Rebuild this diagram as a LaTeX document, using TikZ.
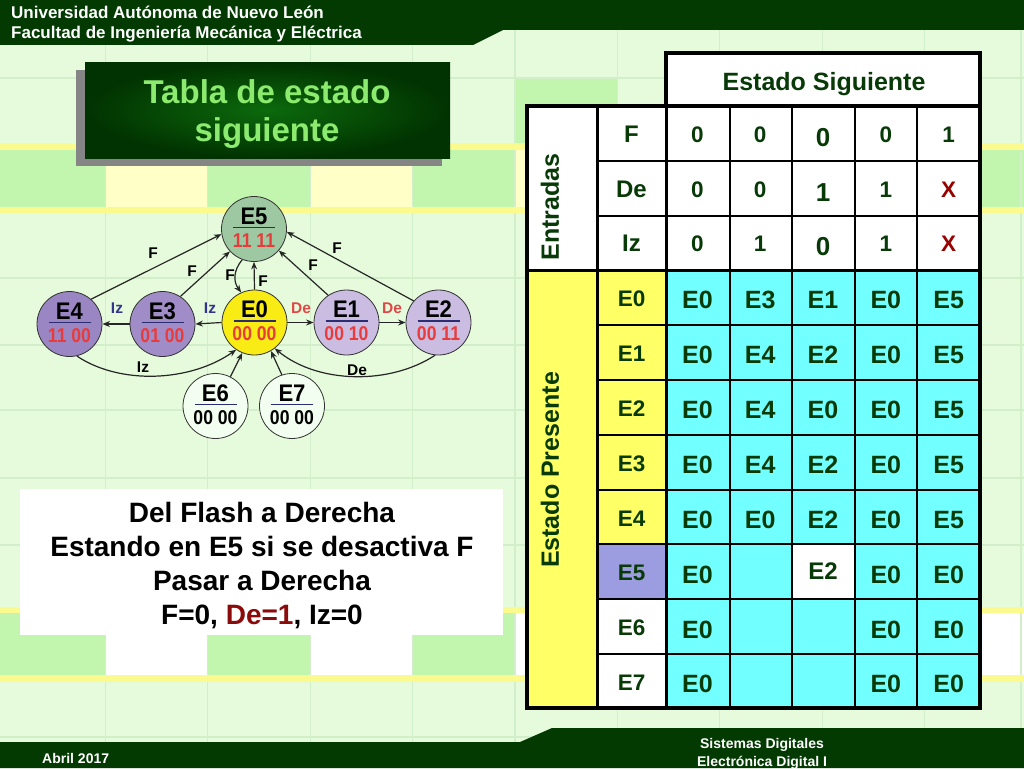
\documentclass[tikz,border=0pt]{standalone}
\usepackage{fontspec}
\setmainfont{Liberation Sans}
\newfontfamily\narrowf[FakeStretch=0.88]{Liberation Sans}
\newfontfamily\semif[FakeStretch=0.92]{Liberation Sans}
\usetikzlibrary{arrows.meta}
\newcommand{\fsz}[1]{\fontsize{#1}{#1}\selectfont\bfseries}
\newcommand{\nfsz}[1]{\narrowf\fontsize{#1}{#1}\selectfont\bfseries}
\newcommand{\sfsz}[1]{\semif\fontsize{#1}{#1}\selectfont\bfseries}
\definecolor{hdr}{HTML}{023A02}
\definecolor{bgbase}{HTML}{E6FBDC}
\definecolor{bggrid}{HTML}{D3EECB}
\definecolor{tilegreen}{HTML}{C2F5AE}
\definecolor{tileyel}{HTML}{FFFFC8}
\definecolor{stripe}{HTML}{FAFA8E}
\definecolor{tgreen}{HTML}{8CEB6E}
\definecolor{titlein}{HTML}{0C6A0C}
\definecolor{titleout}{HTML}{013201}
\definecolor{shadowgray}{HTML}{858585}
\definecolor{txt}{HTML}{083A08}
\definecolor{xred}{HTML}{990000}
\definecolor{cyancell}{HTML}{72FFFF}
\definecolor{yelcell}{HTML}{FFFF66}
\definecolor{lavcell}{HTML}{9C9CE0}
\definecolor{nEfive}{HTML}{9EC8A2}
\definecolor{nEzero}{HTML}{F8EC14}
\definecolor{nEthree}{HTML}{A08CC6}
\definecolor{nEfour}{HTML}{9A86C2}
\definecolor{nEone}{HTML}{CBBCE2}
\definecolor{nEsix}{HTML}{F2FFF0}
\definecolor{lblred}{HTML}{E83C3C}
\definecolor{divline}{HTML}{2C2C72}
\definecolor{izblue}{HTML}{34348C}
\definecolor{dered}{HTML}{E04848}
\definecolor{notered}{HTML}{8B0A0A}
\newcommand\stnode[6]{%
  \node[state, fill=#4] (#1) at (#2,#3) {};
  \node[toplab] (#1t) at (#2,#3-5) {#1};
  \draw[divline, line width=1.5pt] (#2-21,#3-1.5) -- (#2+21,#3-1.5);
  \node[botlab, text=#6] (#1b) at (#2,#3+18) {#5};
}
\begin{document}
\begin{tikzpicture}[x=1pt,y=-1pt,
  state/.style={circle, draw=black!80, line width=0.8pt, minimum size=65pt, inner sep=0pt},
  toplab/.style={font={\sfsz{24}}, anchor=base, inner sep=0pt},
  botlab/.style={font={\nfsz{20}}, anchor=base, inner sep=0pt},
  arr/.style={-{Stealth[length=7.5pt,width=6pt]}, line width=1.2pt, draw=black!85},
  elab/.style={font={\fsz{15.5}}, inner sep=0pt},
  thinl/.style={line width=1.5pt, draw=black},
  thickl/.style={line width=3pt, draw=black},
  outerl/.style={line width=4pt, draw=black},
  dat/.style={font={\fsz{25}}, text=txt, inner sep=0pt, text height=18pt, text depth=0pt},
  rlab/.style={font={\fsz{22.5}}, text=txt, inner sep=0pt, text height=16pt, text depth=0pt},
  inval/.style={font={\fsz{22.5}}, text=txt, inner sep=0pt, text height=16pt, text depth=0pt},
  invalbig/.style={font={\fsz{26}}, text=txt, inner sep=0pt, text height=18.6pt, text depth=0pt},
  hdrtext/.style={font={\fsz{17}}, text=white, anchor=base west, inner sep=0pt},
  foottext/.style={font={\fsz{14}}, text=white, anchor=base, inner sep=0pt},
  notetext/.style={font={\fsz{28}}, text=black, anchor=base, inner sep=0pt}
]
\useasboundingbox (0,0) rectangle (1024,768);
% ---------- background ----------
\fill[bgbase] (0,0) rectangle (1024,768);
\foreach \x in {0,207.8,412.6,617.4,822.2,924.6} \fill[tilegreen] (\x,150) rectangle ++(105.4,57);
\foreach \x in {105.4,310.2,515,719.8} \fill[tileyel] (\x,150) rectangle ++(102.4,57);
\foreach \x in {0,207.8,412.6,617.4,822.2} \fill[tilegreen] (\x,613) rectangle ++(105.4,62);
\foreach \x in {105.4,310.2,515,719.8,924.6} \fill[white] (\x,613) rectangle ++(102.4,62);
\fill[tilegreen] (515,78) rectangle (617,143);
\foreach \x in {105.4,207.8,310.2,412.6,515,617.4,719.8,822.2,924.6,1021}
  \draw[bggrid, line width=1.2pt] (\x,0) -- (\x,768);
\foreach \y in {78,278,345,410,478,545,737}
  \draw[bggrid, line width=1.2pt] (0,\y) -- (1024,\y);
\fill[stripe] (0,143) rectangle (1024,150);
\fill[stripe] (0,207) rectangle (1024,213);
\fill[stripe] (0,607) rectangle (1024,613);
\fill[stripe] (0,675) rectangle (1024,682);
% ---------- header and footer ----------
\fill[hdr] (0,0) -- (1024,0) -- (1024,30) -- (503,30) -- (473,45) -- (0,45) -- cycle;
\fill[hdr] (0,768) -- (0,742) -- (520,742) -- (552,728) -- (1024,728) -- (1024,768) -- cycle;
\node[hdrtext] (uni) at (11,19) {Universidad Autónoma de Nuevo León};
\node[hdrtext] (fac) at (11,39) {Facultad de Ingeniería Mecánica y Eléctrica};
\node[foottext, anchor=base west] (fecha) at (42,763) {Abril 2017};
\node[foottext] (sis) at (762,748) {Sistemas Digitales};
\node[foottext] (elec) at (762,766) {Electrónica Digital I};
% ---------- title ----------
\fill[shadowgray] (76,70) rectangle (442,166);
\node[shade, inner color=titlein, outer color=titleout, minimum width=365pt, minimum height=96pt, inner sep=0pt] (titlebox) at (267.5,110) {};
\node[font={\fsz{33}}, text=tgreen, anchor=base, inner sep=0pt] (title1) at (267,103) {Tabla de estado};
\node[font={\fsz{33}}, text=tgreen, anchor=base, inner sep=0pt] (title2) at (267,141) {siguiente};
% ---------- state diagram ----------
\stnode{E5}{254}{229}{nEfive}{11 11}{lblred}
\stnode{E0}{254.5}{322.5}{nEzero}{00 00}{lblred}
\stnode{E3}{162.5}{324}{nEthree}{01 00}{lblred}
\stnode{E4}{69.5}{324}{nEfour}{11 00}{lblred}
\stnode{E1}{346.5}{322.5}{nEone}{00 10}{lblred}
\stnode{E2}{438.5}{322.5}{nEone}{00 11}{lblred}
\stnode{E6}{215.5}{406}{nEsix}{00 00}{black}
\stnode{E7}{292}{406}{nEsix}{00 00}{black}
% edges
\draw[arr] (E4.49) -- (E5.189);
\draw[arr] (E3.57) -- (E5.223);
\draw[arr] (E5.249) .. controls +(-9,11) and +(-8,-11) .. (E0.114);
\draw[arr] (E0.north) -- (E5.south);
\draw[arr] (E1.124) -- (E5.319);
\draw[arr] (E2.139) -- (E5.355);
\draw[arr] (E0.east) -- (E1.west);
\draw[arr] (E1.east) -- (E2.west);
\draw[arr] (E0.west) -- (E3.east);
\draw[arr] (E3.west) -- (E4.east);
\draw[arr] (E4.283) .. controls (120,385) and (190,382) .. (E0.236);
\draw[arr] (E2.264) .. controls (390,385) and (318,384) .. (E0.308);
\draw[arr] (E6.63) -- (E0.248);
\draw[arr] (E7.108) -- (E0.300);
% edge labels
\node[elab] (lf1) at (153,253) {F};
\node[elab] (lf2) at (192,271) {F};
\node[elab] (lf3) at (230,275) {F};
\node[elab] (lf4) at (263,281) {F};
\node[elab] (lf5) at (313,265) {F};
\node[elab] (lf6) at (337,248) {F};
\node[elab, text=dered] (lde1) at (301,308) {De};
\node[elab, text=dered] (lde2) at (392,308) {De};
\node[elab, text=izblue] (liz1) at (210,308) {Iz};
\node[elab, text=izblue] (liz2) at (117,308) {Iz};
\node[elab] (liz3) at (143,367) {Iz};
\node[elab] (lde3) at (357,370) {De};
% ---------- note box ----------
\node[fill=white, minimum width=483pt, minimum height=146pt, inner sep=0pt] (note) at (261.5,562) {};
\node[notetext] (n1) at (262,522) {Del Flash a Derecha};
\node[notetext] (n2) at (262,556) {Estando en E5 si se desactiva F};
\node[notetext] (n3) at (262,590) {Pasar a Derecha};
\node[notetext] (n4) at (262,624) {F=0, \textcolor{notered}{De=1}, Iz=0};
% ---------- table ----------
\fill[white] (666,53) rectangle (980,106);
\fill[white] (527,106) rectangle (980,270);
\fill[yelcell] (527,270) rectangle (597,708);
\fill[yelcell] (597,270) rectangle (666,544);
\fill[lavcell] (597,544) rectangle (666,599);
\fill[white] (597,599) rectangle (666,708);
\fill[cyancell] (666,270) rectangle (980,708);
\fill[white] (792,544) rectangle (855,599);
\foreach \y in {161,216,325,380,435,490,544,599,654} \draw[thinl] (597,\y) -- (980,\y);
\foreach \x in {730,792,855,917} \draw[thinl] (\x,106) -- (\x,708);
\draw[thickl] (597,106) -- (597,708);
\draw[thickl] (666,106) -- (666,708);
\draw[thickl] (527,270) -- (980,270);
\draw[outerl] (527,106) rectangle (980,708);
\draw[outerl] (666,53) rectangle (980,106);
\node[font={\fsz{25}}, text=txt, anchor=base, inner sep=0pt] (sig) at (824,90) {Estado Siguiente};
\node[font={\fsz{25}}, text=txt, rotate=90, inner sep=0pt] (entr) at (550,207) {Entradas};
\node[font={\fsz{25}}, text=txt, rotate=90, inner sep=0pt] (pres) at (550,470) {Estado Presente};
% input rows
\node[rlab, font={\fsz{24}}, text height=17pt] (inF) at (631.5,134) {F};
\node[rlab, font={\fsz{24}}, text height=17pt] (inDe) at (631.5,189) {De};
\node[rlab, font={\fsz{24}}, text height=17pt] (inIz) at (631.5,243) {Iz};
\foreach \j/\v in {1/0,2/0,4/0,5/1} \node[inval] (vF\j) at ({666+(\j-0.5)*62.8},134) {\v};
\node[invalbig] (vF3) at (823,137) {0};
\foreach \j/\v in {1/0,2/0,4/1} \node[inval] (vD\j) at ({666+(\j-0.5)*62.8},189) {\v};
\node[invalbig] (vD3) at (823,192) {1};
\node[inval, text=xred] (vD5) at (948.6,189) {X};
\foreach \j/\v in {1/0,2/1,4/1} \node[inval] (vI\j) at ({666+(\j-0.5)*62.8},243) {\v};
\node[invalbig] (vI3) at (823,246) {0};
\node[inval, text=xred] (vI5) at (948.6,243) {X};
% state rows
\foreach \s/\y in {0/298.5,1/353.5,2/408.5,3/463.5,4/518,5/572.5,6/627.5,7/682}
  \node[rlab] (ps\s) at (631.5,\y) {E\s};
\foreach \j/\v in {1/E0,2/E3,3/E1,4/E0,5/E5} \node[dat] (a\j) at ({666+(\j-0.5)*62.8},299.5) {\v};
\foreach \j/\v in {1/E0,2/E4,3/E2,4/E0,5/E5} \node[dat] (b\j) at ({666+(\j-0.5)*62.8},354.5) {\v};
\foreach \j/\v in {1/E0,2/E4,3/E0,4/E0,5/E5} \node[dat] (c\j) at ({666+(\j-0.5)*62.8},409.5) {\v};
\foreach \j/\v in {1/E0,2/E4,3/E2,4/E0,5/E5} \node[dat] (d\j) at ({666+(\j-0.5)*62.8},464.5) {\v};
\foreach \j/\v in {1/E0,2/E0,3/E2,4/E0,5/E5} \node[dat] (e\j) at ({666+(\j-0.5)*62.8},519) {\v};
\foreach \j/\v in {1/E0,4/E0,5/E0} \node[dat] (f\j) at ({666+(\j-0.5)*62.8},574) {\v};
\node[dat, font={\fsz{24}}, text height=17pt] (f3) at (823,571) {E2};
\foreach \j/\v in {1/E0,4/E0,5/E0} \node[dat] (g\j) at ({666+(\j-0.5)*62.8},629) {\v};
\foreach \j/\v in {1/E0,4/E0,5/E0} \node[dat] (h\j) at ({666+(\j-0.5)*62.8},683.5) {\v};
\end{tikzpicture}
\end{document}
